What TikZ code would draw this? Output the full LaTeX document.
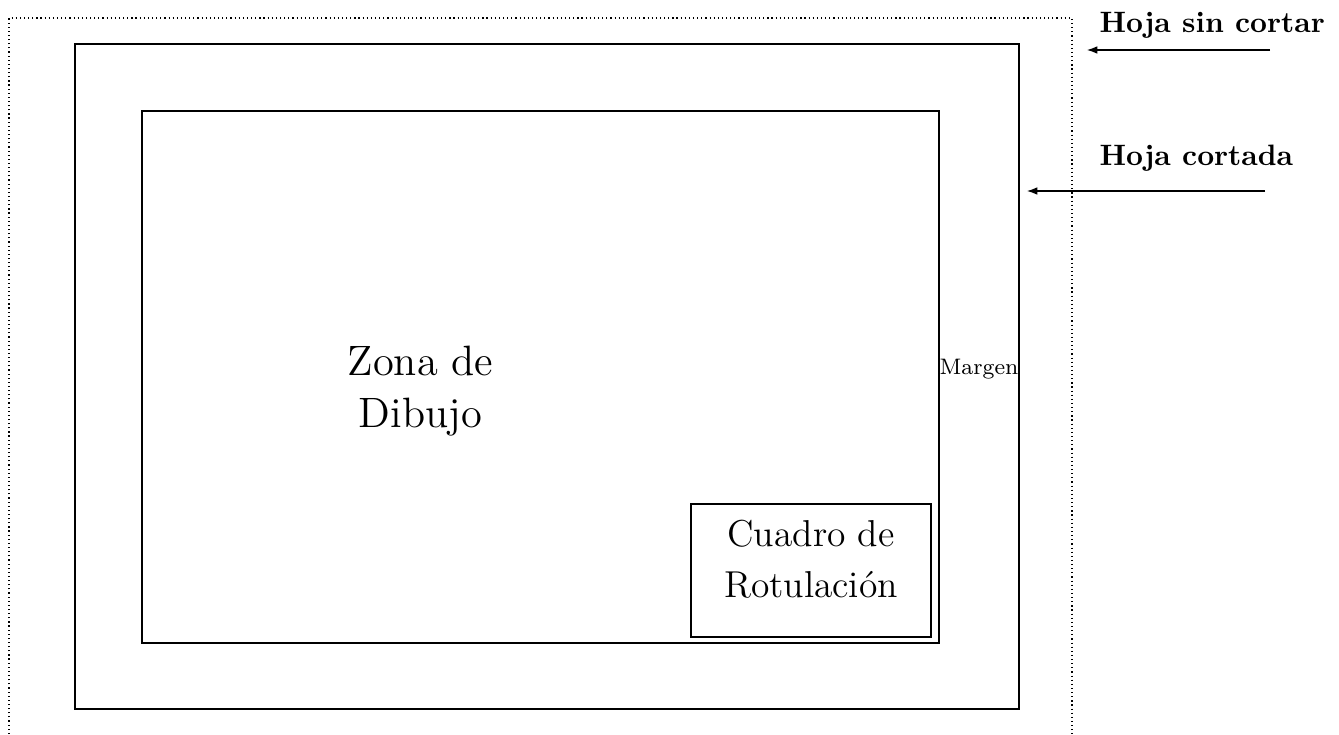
\documentclass[tikz,border=0pt]{standalone}
\usetikzlibrary{arrows.meta}
\begin{document}
\begin{tikzpicture}[x=0.339pt,y=-0.339pt,
  frame/.style={draw,line width=0.4pt,inner sep=0pt},
  sheet/.style={draw,densely dotted,line width=0.4pt},
  lbl/.style={font=\bfseries,anchor=base west,inner sep=0pt},
  txt/.style={align=center,anchor=base,inner sep=0pt},
  arr/.style={-{Latex[length=3.5pt,width=2.6pt]},line width=0.4pt}]
\useasboundingbox (0,0) rectangle (1339,734);
% uncut sheet (open at the bottom)
\draw[sheet] (9,734) -- (9,18) -- (1072,18) -- (1072,734);
% cut sheet
\node[frame,minimum width=944*0.339pt,minimum height=665*0.339pt] (cut) at (547,376.5) {};
% drawing zone
\node[frame,minimum width=797*0.339pt,minimum height=532*0.339pt] (zone) at (540.5,377) {};
% title block
\node[frame,minimum width=240*0.339pt,minimum height=133*0.339pt] (title) at (811,570.5) {};
\node[txt,font=\fontsize{12.7}{17}\selectfont] (titletxt) at (811,597) {Cuadro de\\Rotulaci\'on};
% labels
\node[txt,font=\fontsize{14.4}{17.6}\selectfont] (zonatxt) at (420.5,427) {Zona de\\Dibujo};
\node[font=\fontsize{7.6}{9}\selectfont,inner sep=0pt] (margen) at (979,369) {Margen};
\node[lbl] (sin) at (1099,32) {Hoja sin cortar};
\node[lbl] (cor) at (1099,165) {Hoja cortada};
% arrows
\coordinate (a1s) at (1270,50);
\coordinate (a1e) at (1087,50);
\coordinate (a2s) at (1265,191);
\coordinate (a2e) at (1027,191);
\draw[arr] (a1s) -- (a1e);
\draw[arr] (a2s) -- (a2e);
\end{tikzpicture}
\end{document}
